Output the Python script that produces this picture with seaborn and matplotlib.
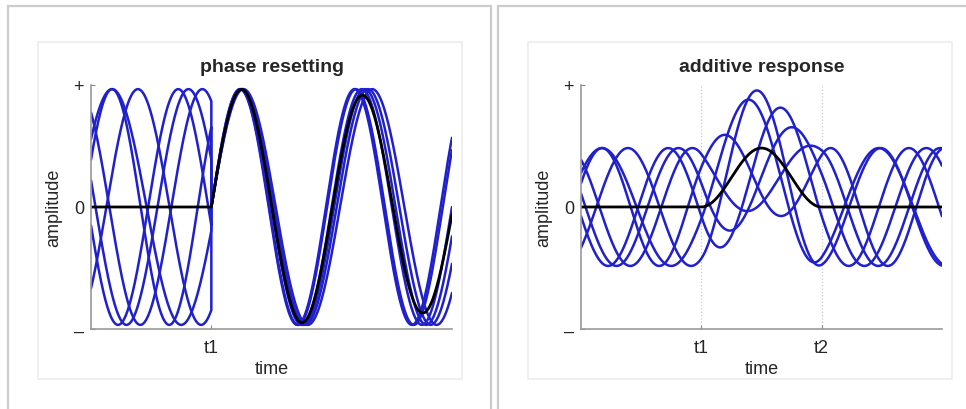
import matplotlib.pyplot as plt
import numpy as np
import pandas as pd
import seaborn as sns
from matplotlib.patches import Rectangle

# time runs 0..3, stimulus at t1 (and t2 for the additive panel)
t_start, t_end = 0.0, 3.0
t1, t2 = 1.0, 2.0

# ongoing trials: time of first peak and frequency (cycles per time unit)
trial_peaks = [0.175, 0.39, 0.725, 0.81, 0.925, 0.175]
trial_freqs = [0.87, 0.952, 1.0, 0.971, 0.971, 1.053]

# phase resetting: frequency of each trial after the reset at t1
reset_freqs = [1.05, 0.935, 0.98, 1.04, 0.96, 1.0]

# additive response: ongoing trials at half amplitude plus an evoked bump
add_amp = 0.5
bump_amp = 0.5

y_lim = 1.035
y_ticks = [-y_lim, 0, y_lim]
y_ticklabels = ['\u2013', '0', '+']

BLUE = '#2020cc'
W, H = 966, 410

t = np.linspace(t_start, t_end, 901)
pre = t[t <= t1]
post = t[t >= t1]

# build long-form tables
rows = []
for i, (p, f, fr) in enumerate(zip(trial_peaks, trial_freqs, reset_freqs)):
    y_pre = np.cos(2 * np.pi * f * (pre - p))
    y_post = np.sin(2 * np.pi * fr * (post - t1))
    rows.append(pd.DataFrame({'trial': i, 'time': np.r_[pre, post], 'amplitude': np.r_[y_pre, y_post]}))
df_reset = pd.concat(rows, ignore_index=True)
post_mean = np.mean([np.sin(2 * np.pi * fr * (post - t1)) for fr in reset_freqs], axis=0)
df_reset_avg = pd.DataFrame({'time': np.r_[pre, post], 'amplitude': np.r_[np.zeros_like(pre), post_mean]})

inside = (t >= t1) & (t <= t2)
bump = np.where(inside, bump_amp * 0.5 * (1 - np.cos(2 * np.pi * (t - t1) / (t2 - t1))), 0.0)
rows = []
for i, (p, f) in enumerate(zip(trial_peaks, trial_freqs)):
    y = add_amp * np.cos(2 * np.pi * f * (t - p)) + bump
    rows.append(pd.DataFrame({'trial': i, 'time': t, 'amplitude': y}))
df_add = pd.concat(rows, ignore_index=True)
df_add_avg = pd.DataFrame({'time': t, 'amplitude': bump})

sns.set_style('white')
plt.rcParams['font.family'] = ['Liberation Sans', 'DejaVu Sans']

fig = plt.figure(figsize=(W / 100, H / 100), dpi=100)

# panel frames (outer grey card and inner light box)
for x0, x1 in [(8, 491), (498, 975)]:
    fig.add_artist(Rectangle((x0 / W, 1 - 430 / H), (x1 - x0) / W, (430 - 7) / H,
                             transform=fig.transFigure, fill=False, ec='#cccccc', lw=1.6))
for x0 in [38, 528]:
    fig.add_artist(Rectangle((x0 / W, 1 - 380 / H), 424 / W, (380 - 43) / H,
                             transform=fig.transFigure, fill=False, ec='#ececec', lw=1.2))

ax1 = fig.add_axes([91 / W, 1 - 330 / H, 361 / W, 244 / H])
ax2 = fig.add_axes([581 / W, 1 - 330 / H, 361 / W, 244 / H])

sns.lineplot(data=df_reset, x='time', y='amplitude', units='trial', estimator=None,
             sort=False, color=BLUE, lw=1.8, ax=ax1)
sns.lineplot(data=df_reset_avg, x='time', y='amplitude', estimator=None,
             sort=False, color='black', lw=2.0, ax=ax1)

for x in [t1, t2]:
    ax2.axvline(x, color='#c8c8c8', lw=0.9, ls=':', zorder=0)
sns.lineplot(data=df_add, x='time', y='amplitude', units='trial', estimator=None,
             sort=False, color=BLUE, lw=1.8, ax=ax2)
sns.lineplot(data=df_add_avg, x='time', y='amplitude', estimator=None,
             sort=False, color='black', lw=2.0, ax=ax2)

for ax, title, xt, xl in [(ax1, 'phase resetting', [t1], ['t1']),
                          (ax2, 'additive response', [t1, t2], ['t1', 't2'])]:
    ax.set_xlim(t_start, t_end)
    ax.set_ylim(-y_lim, y_lim)
    ax.set_yticks(y_ticks)
    ax.set_yticklabels(y_ticklabels)
    ax.set_xticks(xt)
    ax.set_xticklabels(xl)
    ax.tick_params(direction='in', length=3, width=0.8, color='#888888',
                   labelsize=13, pad=5, left=True, bottom=True)
    ax.tick_params(axis='x', pad=7)
    ax.set_xlabel('time', fontsize=13, labelpad=3)
    ax.set_ylabel('amplitude', fontsize=13, labelpad=8)
    ax.set_title(title, fontsize=14, fontweight='bold', pad=10)
    for side in ['top', 'right']:
        ax.spines[side].set_visible(False)
    for side in ['left', 'bottom']:
        ax.spines[side].set_color('#999999')
        ax.spines[side].set_linewidth(1.2)
    ax.set_facecolor('none')

fig.savefig('out.png', dpi=100)
